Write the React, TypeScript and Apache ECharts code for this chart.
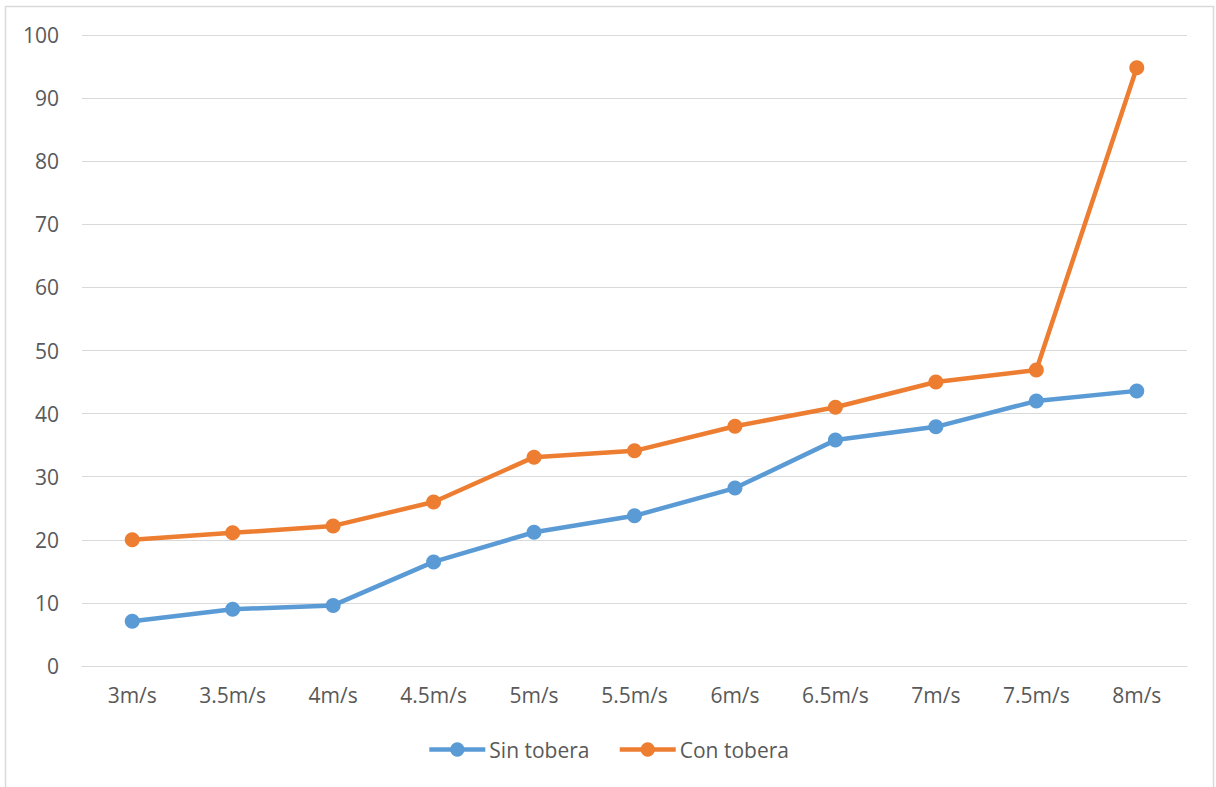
import React, { useEffect, useRef } from "react";
import * as echarts from "echarts";

const categories = ["3m/s", "3.5m/s", "4m/s", "4.5m/s", "5m/s", "5.5m/s", "6m/s", "6.5m/s", "7m/s", "7.5m/s", "8m/s"];
const sinTobera = [7.1, 9.0, 9.6, 16.5, 21.2, 23.8, 28.2, 35.8, 37.9, 42.0, 43.6];
const conTobera = [20.0, 21.1, 22.2, 26.0, 33.1, 34.1, 38.0, 41.0, 45.0, 46.9, 94.8];
const seriesNames = ["Sin tobera", "Con tobera"];
const seriesColors = ["#5B9BD5", "#ED7D31"];

const FONT = "'Open Sans', 'Noto Sans', sans-serif";
const TEXT_COLOR = "#595959";

export default function App() {
  const ref = useRef<HTMLDivElement>(null);
  useEffect(() => {
    if (!ref.current) return;
    const chart = echarts.init(ref.current, undefined, { renderer: "svg" });
    const mk = (name: string, data: number[], color: string) => ({
      name,
      type: "line",
      data,
      symbol: "circle",
      symbolSize: 15,
      lineStyle: { width: 4.5, color },
      itemStyle: { color },
      z: 3,
    });
    chart.setOption({
      animation: false,
      backgroundColor: "#ffffff",
      textStyle: { fontFamily: FONT },
      graphic: [
        {
          type: "rect",
          shape: { x: 5.5, y: 6.5, width: 1208, height: 820 },
          style: { fill: "none", stroke: "#d9d9d9", lineWidth: 1.5 },
          silent: true,
        },
      ],
      grid: { left: 82, right: 29, top: 35, bottom: 121, containLabel: false },
      xAxis: {
        type: "category",
        data: categories,
        boundaryGap: true,
        axisLine: { show: true, lineStyle: { color: "#d9d9d9", width: 1 } },
        axisTick: { show: false },
        axisLabel: { color: TEXT_COLOR, fontSize: 21, fontFamily: FONT, margin: 18, interval: 0 },
      },
      yAxis: {
        type: "value",
        min: 0,
        max: 100,
        interval: 10,
        axisLine: { show: false },
        axisTick: { show: false },
        splitLine: { show: true, lineStyle: { color: "#d9d9d9", width: 1 } },
        axisLabel: { color: TEXT_COLOR, fontSize: 21, fontFamily: FONT, margin: 23 },
      },
      legend: {
        bottom: 22,
        left: "center",
        itemWidth: 56,
        itemHeight: 18,
        itemGap: 28,
        lineStyle: { width: 4.5 },
        textStyle: { color: TEXT_COLOR, fontSize: 21, fontFamily: FONT, padding: [0, 0, 0, -1] },
        data: seriesNames,
      },
      series: [
        mk(seriesNames[0], sinTobera, seriesColors[0]),
        mk(seriesNames[1], conTobera, seriesColors[1]),
      ],
    });
    return () => chart.dispose();
  }, []);
  return (
    <div
      ref={ref}
      style={{ position: "absolute", left: 0, top: 0, width: 1216, height: 787, background: "#fff" }}
    />
  );
}
